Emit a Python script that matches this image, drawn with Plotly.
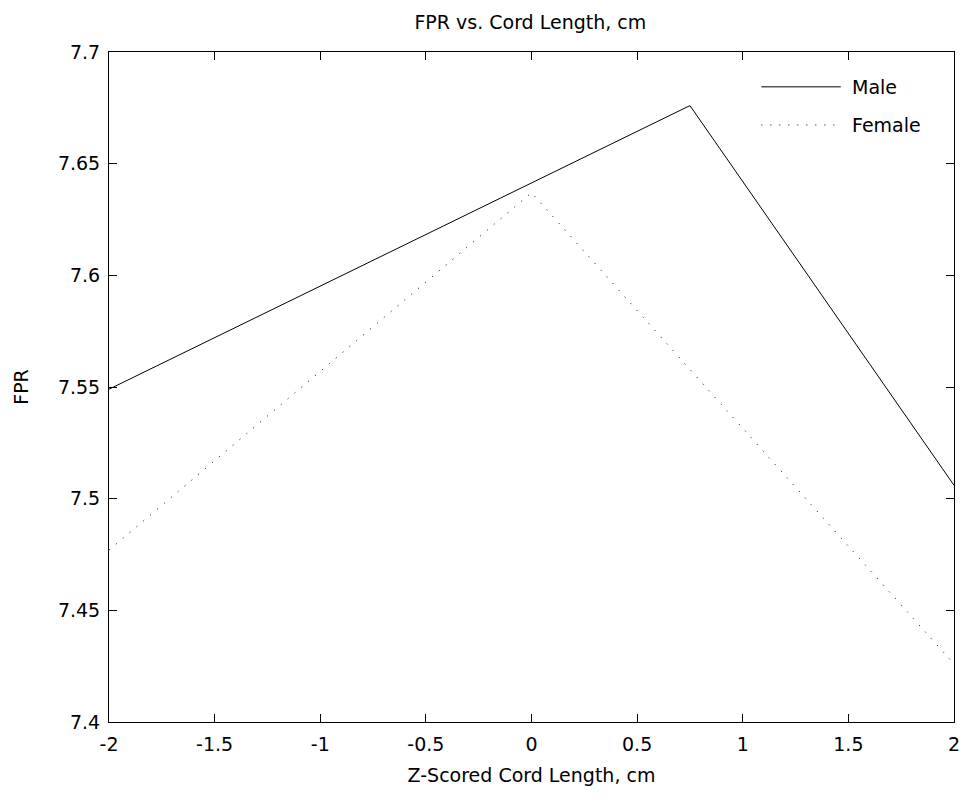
import plotly.graph_objects as go

male_x = [-2, 0.75, 2]
male_y = [7.549, 7.676, 7.506]
female_x = [-2, 0, 2]
female_y = [7.477, 7.637, 7.426]

x_ticks = [-2, -1.5, -1, -0.5, 0, 0.5, 1, 1.5, 2]
x_tick_text = ["-2", "-1.5", "-1", "-0.5", "0", "0.5", "1", "1.5", "2"]
y_ticks = [7.4, 7.45, 7.5, 7.55, 7.6, 7.65, 7.7]
y_tick_text = ["7.4", "7.45", "7.5", "7.55", "7.6", "7.65", "7.7"]

FONT = "DejaVu Sans"
FS = 19

fig = go.Figure()
fig.add_trace(go.Scatter(x=male_x, y=male_y, mode="lines", name="Male",
                         line=dict(color="black", width=1), showlegend=False))
fig.add_trace(go.Scatter(x=female_x, y=female_y, mode="lines", name="Female",
                         line=dict(color="black", width=1, dash="1px,8px"), showlegend=False))

# manual legend (MATLAB style, no box)
fig.add_shape(type="line", xref="paper", yref="paper", x0=0.772, x1=0.866, y0=0.948, y1=0.948,
              line=dict(color="black", width=1))
fig.add_shape(type="line", xref="paper", yref="paper", x0=0.772, x1=0.866, y0=0.891, y1=0.891,
              line=dict(color="black", width=1, dash="1px,8px"))
fig.add_annotation(text="Male", xref="paper", yref="paper", x=0.877, y=0.948, xanchor="left",
                   yanchor="middle", showarrow=False, font=dict(family=FONT, size=FS, color="black"))
fig.add_annotation(text="Female", xref="paper", yref="paper", x=0.877, y=0.891, xanchor="left",
                   yanchor="middle", showarrow=False, font=dict(family=FONT, size=FS, color="black"))

axis_common = dict(showgrid=False, zeroline=False, showline=True, linecolor="black", linewidth=1,
                   mirror="ticks", ticks="inside", ticklen=8, tickcolor="black", tickwidth=1,
                   tickfont=dict(family=FONT, size=FS, color="black"))

fig.update_xaxes(range=[-2, 2], tickvals=x_ticks, ticktext=x_tick_text,
                 title=dict(text="Z-Scored Cord Length, cm", font=dict(family=FONT, size=FS, color="black"),
                            standoff=14),
                 ticklabelstandoff=5, **axis_common)
fig.update_yaxes(range=[7.4, 7.7], tickvals=y_ticks, ticktext=y_tick_text,
                 title=dict(text="FPR", font=dict(family=FONT, size=FS, color="black"), standoff=24),
                 ticklabelstandoff=4, **axis_common)

fig.update_layout(
    width=971, height=798,
    margin=dict(l=109, r=11, t=52, b=76),
    paper_bgcolor="white", plot_bgcolor="white",
    title=dict(text="FPR vs. Cord Length, cm", x=0.5462, xanchor="center", y=1 - 22 / 798, yanchor="middle",
               font=dict(family=FONT, size=FS, color="black")),
    showlegend=False,
)

fig.write_html("out.html")
